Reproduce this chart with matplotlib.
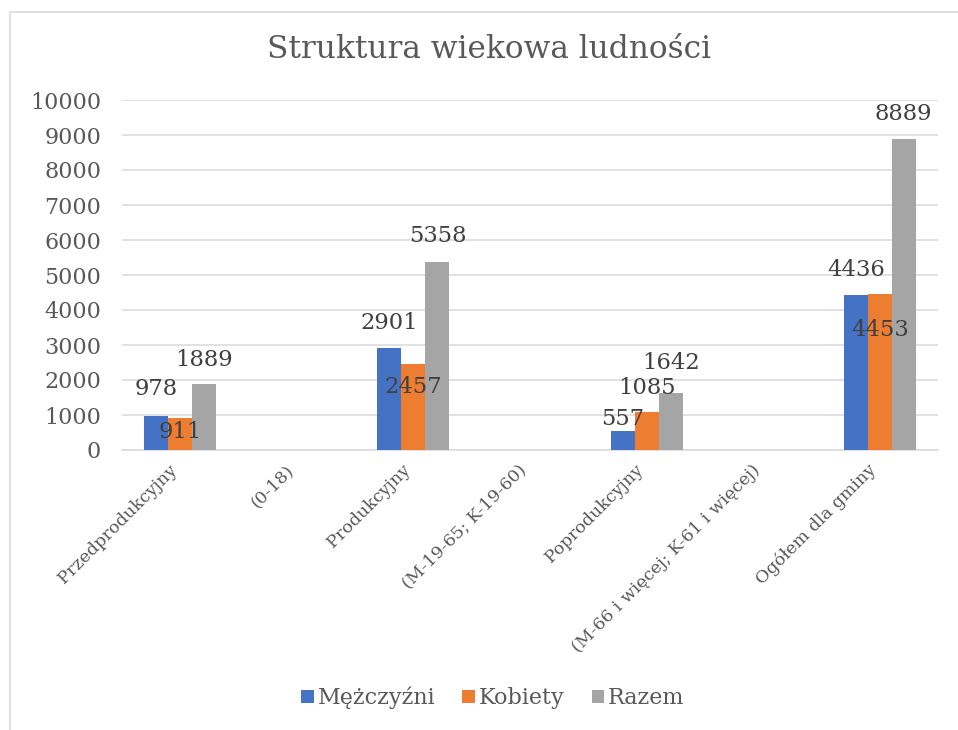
import matplotlib
matplotlib.use("Agg")
import matplotlib.pyplot as plt
import numpy as np
from matplotlib.patches import Rectangle, Patch

categories = ["Przedprodukcyjny", "(0-18)", "Produkcyjny", "(M-19-65; K-19-60)",
              "Poprodukcyjny", "(M-66 i więcej; K-61 i więcej)", "Ogółem dla gminy"]
series_names = ["Mężczyźni", "Kobiety", "Razem"]
mezczyzni = [978, None, 2901, None, 557, None, 4436]
kobiety = [911, None, 2457, None, 1085, None, 4453]
razem = [1889, None, 5358, None, 1642, None, 8889]
yticks = [0, 1000, 2000, 3000, 4000, 5000, 6000, 7000, 8000, 9000, 10000]

colors = ["#4472C4", "#ED7D31", "#A5A5A5"]
# label vertical offsets (pixels, label centre relative to bar top) mimicking Excel placement
label_offsets_px = [
    [27, 0, 25, 0, 12, 0, 25],
    [-14, 0, -23, 0, 24, 0, -36],
    [24, 0, 26, 0, 30, 0, 25],
]

W, H = 958, 730
fig = plt.figure(figsize=(W / 100, H / 100), dpi=100)
plt.rcParams['font.family'] = ['DejaVu Serif']
txt = "#595959"

# chart border
fig.patches.append(Rectangle((10 / W, 1 - 740 / H), 960 / W, 728 / H, transform=fig.transFigure,
                             fill=False, edgecolor="#D9D9D9", linewidth=1.2))

ax = fig.add_axes([122 / W, 1 - 450 / H, (938 - 122) / W, 350 / H])
x = np.arange(len(categories))
bw = 0.206
all_series = [mezczyzni, kobiety, razem]
for i, (vals, c) in enumerate(zip(all_series, colors)):
    xs = [xx + (i - 1) * bw for xx, v in zip(x, vals) if v is not None]
    vs = [v for v in vals if v is not None]
    ax.bar(xs, vs, width=bw, color=c, zorder=3, label=series_names[i])
    for j, v in enumerate(vals):
        if v is None:
            continue
        ax.annotate(str(v), (x[j] + (i - 1) * bw, v), xytext=(0, label_offsets_px[i][j] * 0.72),
                    textcoords="offset points", ha="center", va="center",
                    fontsize=16.3, color="#404040", zorder=5)

ax.set_xlim(-0.5, len(categories) - 0.5)
ax.set_ylim(0, 10000)
ax.set_yticks(yticks)
ax.set_yticklabels([str(t) for t in yticks], fontsize=16, color=txt)
ax.yaxis.grid(True, color="#D9D9D9", linewidth=1.1, zorder=0)
ax.tick_params(axis="y", length=0, pad=15)
ax.tick_params(axis="x", length=0, pad=8)
ax.set_xticks(x)
ax.set_xticklabels(categories, rotation=45, ha="right", va="top", fontsize=12.6, color=txt)
for s in ["top", "right", "left"]:
    ax.spines[s].set_visible(False)
ax.spines["bottom"].set_color("#D9D9D9")
ax.spines["bottom"].set_linewidth(1.1)
ax.set_facecolor("none")

fig.text(489 / W, 1 - 49 / H, "Struktura wiekowa ludności", ha="center", va="center",
         fontsize=22.5, color=txt)

handles = [Patch(facecolor=c, edgecolor="none") for c in colors]
fig.legend(handles, series_names, loc="center", bbox_to_anchor=(493 / W, 1 - 698 / H),
           ncol=3, frameon=False, fontsize=16, labelcolor=txt, handlelength=0.55,
           handleheight=0.55, handletextpad=0.2, columnspacing=1.2)

fig.savefig("out.png", dpi=100)
